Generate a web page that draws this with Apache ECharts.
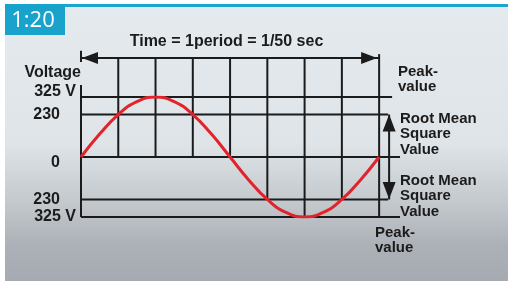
<!DOCTYPE html>
<html>
<head>
<meta charset="utf-8">
<style>
    html, body { margin: 0; padding: 0; background: #fff; }
    #main { width: 508px; height: 281px; }
</style>
<script src="https://cdn.jsdelivr.net/npm/echarts@6/dist/echarts.min.js"></script>
</head>
<body>
<div id="main"></div>
<script>
// one period of the mains voltage (ms, V)
const sampleMs = [0, 1.25, 2.5, 3.75, 5, 6.25, 7.5, 8.75, 10, 11.25, 12.5, 13.75, 15, 16.25, 17.5, 18.75, 20]
const voltage = [0, 124, 230, 300, 325, 300, 230, 124, 0, -124, -230, -300, -325, -300, -230, -124, 0]

// horizontal reference levels and their labels
const levelValues = [325, 230, 0, -230, -325]
const levelLabels = ['325 V', '230', '0', '230', '325 V']

// vertical division lines (ms) and the lowest level each one reaches (V)
const divisionMs = [2.5, 5, 7.5, 10, 12.5, 15, 17.5, 20]
const divisionFloor = [0, 0, 0, 0, -230, -325, -230, -325]

const timeTitle = 'Time = 1period = 1/50 sec'
const yTitle = 'Voltage'

const INK = '#1b1b1b'
const FONT = '"Liberation Sans", Arial, sans-serif'
const ARROW_V = 536 // level of the time arrow above the plot
const X_MAX = 21.4 // room on the right for the level lines running past the period

// how far right each level line runs
function levelEnd(v) {
    if (Math.abs(v) === 230) return 20.6
    if (v === 325) return 20.87
    return X_MAX
}

// a plain black segment drawn through the axes
function seg(a, b, extra) {
    return Object.assign({
        type: 'line',
        data: [a, b],
        symbol: 'none',
        clip: false,
        silent: true,
        lineStyle: { color: INK, width: 2 },
        itemStyle: { color: INK },
        z: 1,
    }, extra || {})
}

const series = []
levelValues.forEach((v) => series.push(seg([0, v], [levelEnd(v), v])))
divisionMs.forEach((t, i) => {
    series.push(seg([t, t === 20 ? 557 : ARROW_V], [t, divisionFloor[i]]))
})
series.push(seg([0, 390], [0, -325])) // voltage axis
series.push(seg([0, 575], [0, 515])) // stop mark at left of time arrow
// time arrow
series.push(seg(
    { value: [0, ARROW_V], symbol: 'triangle', symbolSize: [12, 16], symbolRotate: 90, symbolOffset: [9, 0] },
    { value: [20, ARROW_V], symbol: 'triangle', symbolSize: [12, 16], symbolRotate: -90, symbolOffset: [-10, 0] }
))
// rms double arrow
series.push(seg(
    { value: [20.67, 230], symbol: 'triangle', symbolSize: [13, 17], symbolOffset: [0, 8.5] },
    { value: [20.67, -230], symbol: 'triangle', symbolSize: [13, 17], symbolRotate: 180, symbolOffset: [0, -9] }
))
// the sine wave
series.push({
    type: 'line',
    data: sampleMs.map((t, i) => [t, voltage[i]]),
    smooth: true,
    symbol: 'none',
    silent: true,
    lineStyle: { color: '#e3232a', width: 3 },
    z: 5,
})

function labelText(v) {
    const s = levelLabels[levelValues.indexOf(v)]
    // bare numbers keep the room the " V" takes
    const txt = s.endsWith('V') ? s : s + '\u2002\u2002'
    if (v === 325) return txt + '\n'
    if (v === 0) return '\n' + txt
    return txt
}

// two label-only axes on the same side, so close labels never hide each other
function levelAxis(values, extra) {
    return Object.assign({
        type: 'value',
        position: 'left',
        offset: 0,
        min: -325,
        max: 325,
        axisLine: { show: false },
        axisTick: { show: false },
        splitLine: { show: false },
        axisLabel: {
            customValues: values,
            showMinLabel: true,
            showMaxLabel: true,
            margin: 5,
            color: INK,
            fontSize: 16,
            fontWeight: 'bold',
            fontFamily: FONT,
            lineHeight: 11,
            formatter: labelText,
        },
    }, extra || {})
}

function sideText(text, x, y) {
    return {
        type: 'text',
        z: 10,
        style: {
            text: text,
            x: x,
            y: y,
            fill: INK,
            font: 'bold 15px ' + FONT,
            lineHeight: 15.5,
            textVerticalAlign: 'top',
        },
    }
}

const chart = echarts.init(document.getElementById('main'))
chart.setOption({
    animation: false,
    grid: { left: 81, right: 108, top: 97, bottom: 64, outerBoundsMode: 'none' },
    xAxis: {
        type: 'value',
        min: 0,
        max: X_MAX,
        position: 'top',
        axisLine: { show: false },
        axisTick: { show: false },
        axisLabel: { show: false },
        splitLine: { show: false },
        name: timeTitle,
        nameLocation: 'middle',
        nameGap: 55,
        nameTextStyle: {
            color: INK, fontSize: 16, fontWeight: 'bold', fontFamily: FONT,
            verticalAlign: 'middle', padding: [0, 28, 0, 0],
        },
    },
    yAxis: [
        levelAxis(levelValues.filter((v) => Math.abs(v) !== 230), {
            name: yTitle,
            nameLocation: 'end',
            nameGap: 24,
            nameTextStyle: { color: INK, fontSize: 16, fontWeight: 'bold', fontFamily: FONT, align: 'right', verticalAlign: 'middle' },
        }),
        levelAxis(levelValues.filter((v) => Math.abs(v) === 230)),
    ],
    graphic: [
        {
            type: 'rect',
            z: -10,
            shape: { x: 5, y: 5, width: 503, height: 276 },
            style: {
                fill: new echarts.graphic.LinearGradient(0, 0, 0, 1, [
                    { offset: 0, color: '#e5eaee' },
                    { offset: 0.5, color: '#dfe4e8' },
                    { offset: 0.72, color: '#c3c8cd' },
                    { offset: 0.87, color: '#acb1b7' },
                    { offset: 1, color: '#a6abb1' },
                ]),
            },
        },
        { type: 'rect', z: -9, shape: { x: 5, y: 4, width: 503, height: 3 }, style: { fill: '#19a6cf' } },
        { type: 'rect', z: -9, shape: { x: 5, y: 4, width: 60, height: 31 }, style: { fill: '#19a3cc' } },
        {
            type: 'text',
            z: -8,
            style: { text: '1:20', x: 33, y: 21, fill: '#fff', font: '22px "Open Sans", sans-serif', textAlign: 'center', textVerticalAlign: 'middle' },
        },
        sideText('Peak-\nvalue', 398, 64),
        sideText('Root Mean\nSquare\nValue', 400, 111),
        sideText('Root Mean\nSquare\nValue', 400, 173),
        sideText('Peak-\nvalue', 375, 225),
    ],
    series: series,
})
</script>
</body>
</html>
